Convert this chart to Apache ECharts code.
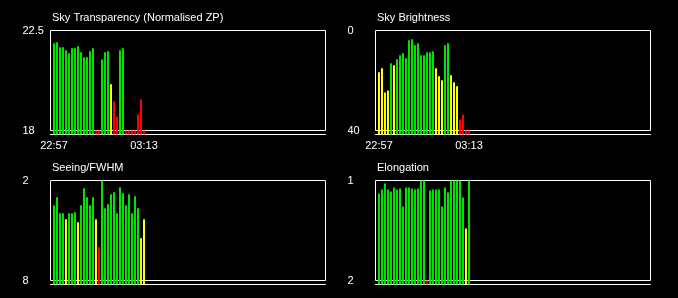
<!DOCTYPE html>
<html>
<head>
<meta charset="utf-8">
<script src="https://cdn.jsdelivr.net/npm/echarts@6/dist/echarts.min.js"></script>
<style>
html,body{margin:0;padding:0;background:#000;}
#c{width:678px;height:298px;}
</style>
</head>
<body>
<div id="c"></div>
<script>
// ---- data (one value per time bin, left to right) ----
var transparency = [21.93, 21.97, 21.75, 21.75, 21.61, 21.48, 21.70, 21.70, 21.79, 21.52, 21.30, 21.30, 21.57, 21.70, 18.0, 18.0, 21.20, 21.52, 21.57, 20.08, 19.31, 18.63, 21.61, 21.70, 18.0, 18.0, 18.0, 18.0, 18.72, 19.40, 18.0];
var brightness = [16.7, 15.1, 24.8, 24.0, 13.1, 13.9, 11.5, 9.9, 9.1, 11.1, 3.9, 3.5, 5.9, 5.1, 9.9, 9.9, 8.7, 8.7, 8.3, 15.1, 18.3, 19.9, 5.9, 5.1, 17.9, 20.7, 22.3, 35.6, 33.6, 40.0, 40.0];
var seeing = [3.49, 3.01, 3.97, 3.97, 4.33, 3.97, 3.97, 3.91, 4.51, 3.49, 2.46, 3.01, 3.49, 3.01, 4.33, 6.01, 2.00, 3.67, 3.43, 2.83, 2.70, 3.97, 2.40, 2.76, 3.49, 2.83, 3.97, 2.95, 3.67, 5.47, 4.33];
var elongation = [1.13, 1.09, 1.03, 1.09, 1.11, 1.07, 1.09, 1.08, 1.26, 1.07, 1.07, 1.08, 1.09, 1.08, 1.00, 1.00, 2.00, 1.10, 1.09, 1.09, 1.09, 1.26, 1.07, 1.12, 1.00, 1.00, 1.00, 1.00, 1.17, 1.48, 1.00];

var titles = ['Sky Transparency (Normalised ZP)', 'Sky Brightness', 'Seeing/FWHM', 'Elongation'];
var yTicksTransparency = [18, 22.5];
var yTicksBrightness = [0, 40];
var yTicksSeeing = [2, 8];
var yTicksElongation = [1, 2];
var xTickIndex = [0, 30];
var xTickLabels = ['22:57', '03:13'];

var GREEN = '#00e400', YELLOW = '#ffff00', RED = '#ff0000';
var FONT = 'Liberation Sans, Arial, sans-serif';

var panels = [
  {title: titles[0], data: transparency, ticks: yTicksTransparency, inverse: false, left: 50.5, top: 30.5, xlabels: true,
   color: function (v) { return v >= 20.5 ? GREEN : (v >= 19.8 ? YELLOW : RED); }},
  {title: titles[1], data: brightness, ticks: yTicksBrightness, inverse: true, left: 375.5, top: 30.5, xlabels: true,
   color: function (v) { return v < 13.5 ? GREEN : (v < 30 ? YELLOW : RED); }},
  {title: titles[2], data: seeing, ticks: yTicksSeeing, inverse: true, left: 50.5, top: 180.5, xlabels: false,
   color: function (v) { return v < 4.1 ? GREEN : (v < 5.8 ? YELLOW : RED); }},
  {title: titles[3], data: elongation, ticks: yTicksElongation, inverse: true, left: 375.5, top: 180.5, xlabels: false,
   color: function (v) { return v < 1.35 ? GREEN : (v < 1.8 ? YELLOW : RED); }}
];

var W = 275, H = 104, FRAME_H = 100, PITCH = 3, FIRST = 3.5;

var option = {
  backgroundColor: '#000',
  animation: false,
  title: [], grid: [], xAxis: [], yAxis: [], series: []
};

panels.forEach(function (p, k) {
  var lo = Math.min(p.ticks[0], p.ticks[1]);
  var hi = Math.max(p.ticks[0], p.ticks[1]);
  var perPx = (hi - lo) / FRAME_H;
  var ext = perPx * (H - FRAME_H);
  var yMin, yMax, start;
  if (p.inverse) { yMin = lo; yMax = hi + ext; start = yMax; }
  else { yMin = lo - ext; yMax = hi; start = yMin; }

  option.title.push({
    text: p.title, left: Math.floor(p.left) + 2, top: Math.floor(p.top) - 18, padding: 0,
    textStyle: {color: '#fff', fontSize: 11, fontWeight: 'normal', fontFamily: FONT}
  });
  option.grid.push({left: p.left, top: p.top, width: W, height: H, show: false});
  var xMin = -FIRST / PITCH;
  option.xAxis.push({
    type: 'value', gridIndex: k, min: xMin, max: xMin + W / PITCH,
    axisLine: {show: true, onZero: false, lineStyle: {color: '#fff', width: 1}},
    axisTick: {show: false}, splitLine: {show: false},
    axisLabel: {
      show: p.xlabels, customValues: xTickIndex, margin: 6,
      color: '#fff', fontSize: 11, fontFamily: FONT,
      formatter: function (v) { var i = xTickIndex.indexOf(Math.round(v)); return i >= 0 ? xTickLabels[i] : ''; }
    }
  });
  option.yAxis.push({
    type: 'value', gridIndex: k, min: yMin, max: yMax, inverse: p.inverse, startValue: start,
    axisLine: {show: false}, axisTick: {show: false}, splitLine: {show: false},
    axisLabel: {
      customValues: p.ticks, align: 'left', margin: 28,
      color: '#fff', fontSize: 11, fontFamily: FONT,
      formatter: function (v) { return String(v); }
    }
  });
  option.series.push({
    type: 'bar', xAxisIndex: k, yAxisIndex: k, barWidth: 2,
    data: p.data.map(function (v, i) { return {value: [i, v], itemStyle: {color: p.color(v)}}; }),
    markArea: {
      silent: true,
      itemStyle: {color: 'rgba(0,0,0,0)', borderColor: '#fff', borderWidth: 1},
      data: [[{yAxis: lo}, {yAxis: hi}]]
    }
  });
});

var chart = echarts.init(document.getElementById('c'), null, {renderer: 'canvas'});
chart.setOption(option);
</script>
</body>
</html>
